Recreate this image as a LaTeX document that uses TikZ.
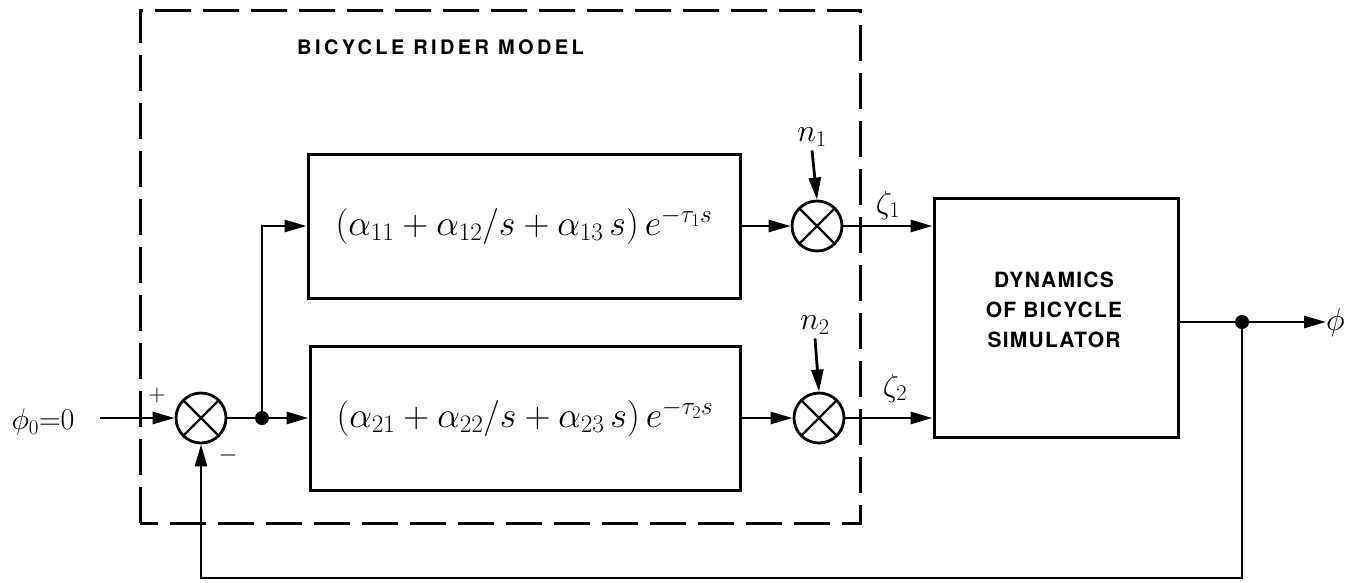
\RequirePackage{fix-cm}
\documentclass[tikz,border=0pt]{standalone}
\usepackage{fontspec}
\setsansfont{TeX Gyre Heros}
\newfontfamily\titlefont[LetterSpace=17]{TeX Gyre Heros}
\newfontfamily\blockfont[LetterSpace=6]{TeX Gyre Heros}
\usetikzlibrary{arrows.meta}
\begin{document}
\begin{tikzpicture}[x=1pt,y=-1pt,
  blk/.style={draw, line width=3pt, inner sep=0pt},
  sig/.style={line width=2.8pt},
  arr/.style={sig, -{Triangle[length=22pt,width=12pt]}},
  mult/.style={circle, draw, line width=2.8pt, minimum size=50pt, inner sep=0pt,
    path picture={\draw[line width=2.2pt]
      (path picture bounding box.north west) -- (path picture bounding box.south east)
      (path picture bounding box.north east) -- (path picture bounding box.south west);}},
  jdot/.style={circle, fill, minimum size=14pt, inner sep=0pt},
  formula/.style={font=\fontsize{36}{40}\selectfont},
  lab/.style={font=\fontsize{32}{36}\selectfont, inner sep=0pt},
  pm/.style={font=\fontsize{24}{26}\selectfont, inner sep=0pt}
]
\useasboundingbox (0,0) rectangle (1353,582);

% dashed rider model box
\draw[line width=3pt, dash pattern=on 36pt off 12pt] (140,523) -- (140,10) -- (860,10) -- (860,523) -- cycle;
\node[anchor=west, inner sep=0pt, font=\titlefont\fontsize{20}{24}\selectfont\bfseries] (title) at (297,47) {BICYCLE RIDER MODEL};

% blocks
\node[blk, minimum width=432pt, minimum height=144pt, formula] (b1) at (524,226)
  {$(\alpha_{11}+\alpha_{12}/s+\alpha_{13}\,s)\,e^{-\tau_1 s}$};
\node[blk, minimum width=430pt, minimum height=144pt, formula] (b2) at (525,418)
  {$(\alpha_{21}+\alpha_{22}/s+\alpha_{23}\,s)\,e^{-\tau_2 s}$};
\node[blk, minimum width=244pt, minimum height=239pt] (dyn) at (1056,317.5) {};
\node[align=center, inner sep=0pt, font=\blockfont\fontsize{21}{30}\selectfont\bfseries] (dyntext) at (1054,310)
  {DYNAMICS\\OF BICYCLE\\SIMULATOR};

% junctions
\node[mult] (s0) at (201,418) {};
\node[jdot] (j1) at (262,418) {};
\node[mult] (m1) at (817,226) {};
\node[mult] (m2) at (819,418) {};
\node[jdot] (j2) at (1242,322) {};

% labels
\node[lab, font=\fontsize{30}{34}\selectfont] (phi0) at (43,422) {$\phi_0{=}0$};
\node[pm] (plus) at (157,395) {$+$};
\node[pm] (minus) at (228,455) {$-$};
\node[lab] (n1) at (812,137) {$n_1$};
\node[lab] (n2) at (815,325) {$n_2$};
\node[lab] (z1) at (888,205) {$\zeta_1$};
\node[lab] (z2) at (895,388) {$\zeta_2$};
\node[lab, anchor=west] (phi) at (1326,322) {$\phi$};

% connectors
\coordinate (in) at (100,418);
\draw[arr] (in) -- (s0.west);
\draw[sig] (s0.east) -- (j1.center);
\draw[arr] (j1.center) -- (j1 -| b2.west);
\draw[arr] (j1.center) |- (b1.west);
\draw[arr] (b1.east) -- (m1.west);
\draw[arr] (b2.east |- m2) -- (m2.west);
\draw[arr] (n1.south) ++(0,4) -- (m1.north);
\draw[arr] (n2.south) ++(0,4) -- (m2.north);
\draw[arr] (m1.east) -- (m1 -| dyn.west);
\draw[arr] (m2.east) -- (m2 -| dyn.west);
\draw[sig] (dyn.east |- j2) -- (j2.center);
\draw[arr] (j2.center) -- (phi.west);
\coordinate (fb) at (1242,578);
\draw[arr] (j2.center) -- (fb) -| (s0.south);
\end{tikzpicture}
\end{document}
